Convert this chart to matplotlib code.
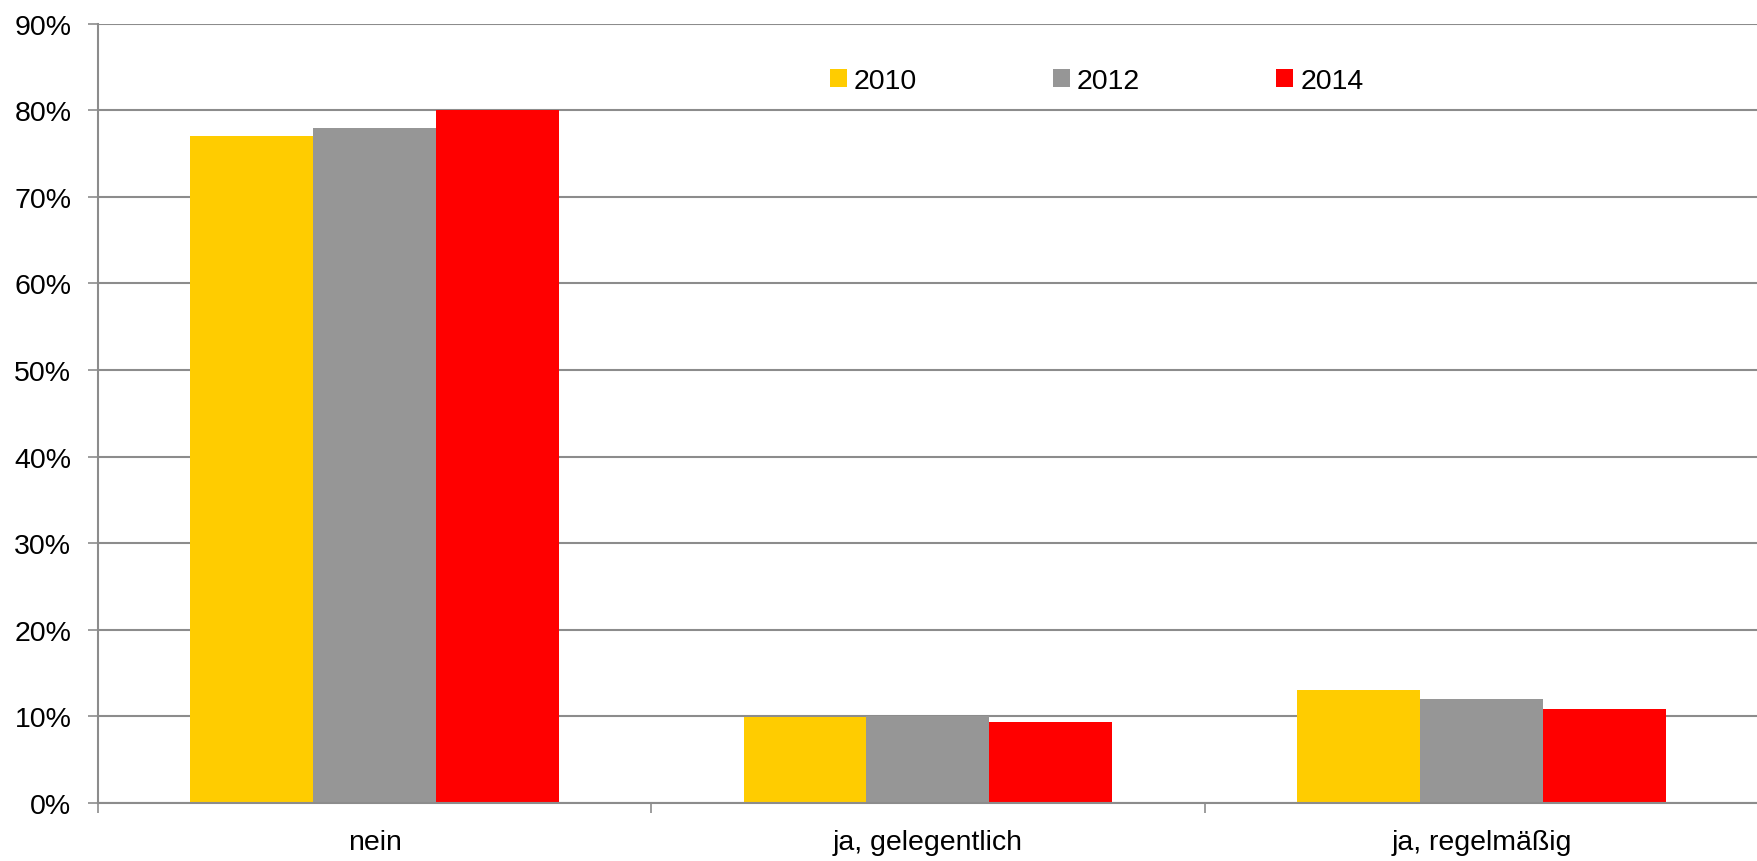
import numpy as np
import matplotlib
matplotlib.use("Agg")
import matplotlib.pyplot as plt
from matplotlib.patches import Patch
from matplotlib.ticker import FuncFormatter, FixedLocator

plt.rcParams["font.family"] = ["Liberation Sans", "DejaVu Sans"]

# Antwortkategorien und Anteile (%) je Erhebungsjahr
kategorien = ["nein", "ja, gelegentlich", "ja, regelmäßig"]
jahre = ["2010", "2012", "2014"]
werte_2010 = [77.0, 9.97, 13.0]
werte_2012 = [78.0, 10.0, 12.0]
werte_2014 = [80.0, 9.3, 10.8]
farben = ["#FFCC00", "#969696", "#FF0000"]

serien = [werte_2010, werte_2012, werte_2014]
schrift = 20.5

fig = plt.figure(figsize=(17.58, 8.62), dpi=100)
ax = fig.add_axes([0.0557, 0.0673, 0.9443, 0.904])

x = np.arange(len(kategorien))
breite = 2 / 9
for j, (werte, farbe) in enumerate(zip(serien, farben)):
    ax.bar(x + (j - 1) * breite, werte, width=breite, color=farbe, zorder=3)

gitterfarbe = "#8c8c8c"
ax.set_xlim(-0.5, 2.5)
ax.set_ylim(0, 90)
ax.set_yticks(np.arange(0, 91, 10))
ax.yaxis.set_major_formatter(FuncFormatter(lambda v, p: f"{v:.0f}%"))
ax.grid(axis="y", color=gitterfarbe, linewidth=1.5, zorder=0)

ax.set_xticks(x)
ax.set_xticklabels(kategorien)
ax.xaxis.set_minor_locator(FixedLocator([-0.5, 0.5, 1.5]))
ax.tick_params(axis="x", which="major", length=0, pad=19, labelsize=schrift)
ax.tick_params(axis="x", which="minor", length=7.2, width=1.2, color=gitterfarbe)
ax.tick_params(axis="y", length=7.2, width=1.2, color=gitterfarbe, pad=12, labelsize=schrift)

for seite in ["top", "right"]:
    ax.spines[seite].set_visible(False)
for seite in ["left", "bottom"]:
    ax.spines[seite].set_color(gitterfarbe)
    ax.spines[seite].set_linewidth(1.5)
    ax.spines[seite].set_zorder(4)

handles = [Patch(facecolor=f, edgecolor="none") for f in farben]
ax.legend(handles, jahre, loc="center", bbox_to_anchor=(0.6015, 0.927), ncol=3,
          frameon=False, fontsize=schrift, handlelength=0.6, handleheight=0.6,
          handletextpad=0.25, columnspacing=4.77)

fig.savefig("out.png", dpi=100)
